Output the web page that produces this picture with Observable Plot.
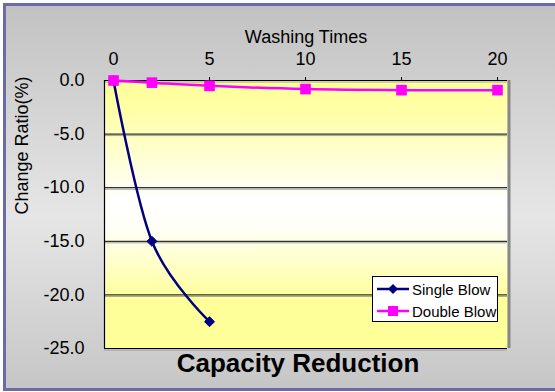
<!DOCTYPE html>
<html>
<head>
<meta charset="utf-8">
<script src="https://cdn.jsdelivr.net/npm/d3@7"></script>
<script src="https://cdn.jsdelivr.net/npm/@observablehq/plot@0.6"></script>
<style>
  body { margin: 0; background: #fff; }
  #wrap { position: relative; width: 555px; height: 392px; overflow: hidden; font-family: "Liberation Sans", Arial, sans-serif; }
  #bg { position: absolute; left: 3px; top: 3px; right: -10px; bottom: 1px; box-sizing: border-box;
        border: 3px solid #6b6ba8;
        background: linear-gradient(to bottom, #c2c2c2 0%, #e6e6e6 55%, #c6c6c6 100%); }
  #chart { position: absolute; left: 0; top: 0; }
  #legend { position: absolute; left: 372px; top: 276px; width: 126px; height: 46px; box-sizing: border-box;
            background: #fff; border: 1px solid #000; font-size: 15px; color: #000; }
  .item { position: absolute; left: 4px; height: 20px; display: flex; align-items: center; }
  .item svg { margin-right: 3px; }
</style>
</head>
<body>
<div id="wrap">
  <div id="bg"></div>
  <div id="chart"></div>
  <div id="legend"></div>
</div>
<script>
const washTimes = [0, 2, 5, 10, 15, 20];
const singleBlow = [0, -15.0, -22.5];
const doubleBlow = [0, -0.2, -0.5, -0.8, -0.9, -0.9];
const seriesNames = ["Single Blow", "Double Blow"];
const seriesColors = ["#000080", "#ff00ff"];
const xTicks = [0, 5, 10, 15, 20];
const yTicks = [0, -5, -10, -15, -20, -25];
const xDomain = [-0.47, 20.52];
const yDomain = [-25, 0];

const singleData = singleBlow.map((v, i) => ({x: washTimes[i], y: v}));
const doubleData = doubleBlow.map((v, i) => ({x: washTimes[i], y: v}));

const font = "Liberation Sans, Arial, sans-serif";

const svg = Plot.plot({
  width: 555,
  height: 392,
  marginLeft: 104,
  marginRight: 48,
  marginTop: 80,
  marginBottom: 44,
  style: {background: "transparent", fontFamily: font, fontSize: "18px", color: "#000", overflow: "visible"},
  x: {domain: xDomain, axis: null},
  y: {domain: yDomain, axis: null},
  marks: [
    Plot.frame({fill: "url(#plotbg)", stroke: "none"}),
    Plot.ruleY(yTicks, {stroke: "#a0a0a0", strokeWidth: 1, dy: 1.5}),
    Plot.ruleY(yTicks, {stroke: "#000", strokeWidth: 1}),
    Plot.ruleX([xDomain[1]], {stroke: "#888", strokeWidth: 3, dx: 1.5}),
    Plot.ruleX([xDomain[0]], {stroke: "#000", strokeWidth: 1.2}),
    Plot.axisX({anchor: "top", ticks: xTicks, tickSize: 4, tickPadding: 12, fontSize: 18, label: null, tickFormat: d => String(d)}),
    Plot.axisY({anchor: "left", ticks: yTicks, tickSize: 0, tickPadding: 20, fontSize: 18, label: null, tickFormat: d => d.toFixed(1)}),
    Plot.text(["Washing Times"], {frameAnchor: "top", dy: -50, fontSize: 18}),
    Plot.text(["Change Ratio(%)"], {frameAnchor: "left", dx: -82, rotate: -90, fontSize: 18}),
    Plot.text(["Capacity Reduction"], {frameAnchor: "bottom", dy: 23, dx: -8, fontSize: 26, fontWeight: "bold"}),
    Plot.line(singleData, {x: "x", y: "y", stroke: seriesColors[0], strokeWidth: 2.5, curve: "cardinal"}),
    Plot.dot(singleData, {x: "x", y: "y", symbol: "diamond2", r: 4.5, fill: seriesColors[0], stroke: seriesColors[0], strokeWidth: 1}),
    Plot.line(doubleData, {x: "x", y: "y", stroke: seriesColors[1], strokeWidth: 2.5, curve: "cardinal"}),
    Plot.dot(doubleData, {x: "x", y: "y", symbol: "square", r: 6, fill: seriesColors[1], stroke: "none"})
  ]
});

const ns = "http://www.w3.org/2000/svg";
const defs = document.createElementNS(ns, "defs");
const grad = document.createElementNS(ns, "linearGradient");
grad.setAttribute("id", "plotbg");
grad.setAttribute("x1", "0"); grad.setAttribute("y1", "0");
grad.setAttribute("x2", "0"); grad.setAttribute("y2", "1");
[[0, "#ffff99"], [0.12, "#ffffa8"], [0.45, "#ffffff"], [0.55, "#fffff8"], [0.82, "#ffff99"], [1, "#ffff99"]].forEach(([o, c]) => {
  const s = document.createElementNS(ns, "stop");
  s.setAttribute("offset", o);
  s.setAttribute("stop-color", c);
  grad.appendChild(s);
});
defs.appendChild(grad);
svg.insertBefore(defs, svg.firstChild);
document.getElementById("chart").appendChild(svg);

const legend = document.getElementById("legend");
seriesNames.forEach((name, i) => {
  const item = document.createElement("div");
  item.className = "item";
  item.style.top = (i === 0 ? 2 : 24) + "px";
  const sw = document.createElementNS(ns, "svg");
  sw.setAttribute("width", 32); sw.setAttribute("height", 12);
  const ln = document.createElementNS(ns, "line");
  ln.setAttribute("x1", 0); ln.setAttribute("x2", 32); ln.setAttribute("y1", 6); ln.setAttribute("y2", 6);
  ln.setAttribute("stroke", seriesColors[i]); ln.setAttribute("stroke-width", 2.5);
  sw.appendChild(ln);
  let m;
  if (i === 0) {
    m = document.createElementNS(ns, "path");
    m.setAttribute("d", "M16,1 L21,6 L16,11 L11,6 Z");
  } else {
    m = document.createElementNS(ns, "rect");
    m.setAttribute("x", 11); m.setAttribute("y", 1); m.setAttribute("width", 10); m.setAttribute("height", 10);
  }
  m.setAttribute("fill", seriesColors[i]);
  sw.appendChild(m);
  item.appendChild(sw);
  const t = document.createElement("span");
  t.textContent = name;
  item.appendChild(t);
  legend.appendChild(item);
});
</script>
</body>
</html>
